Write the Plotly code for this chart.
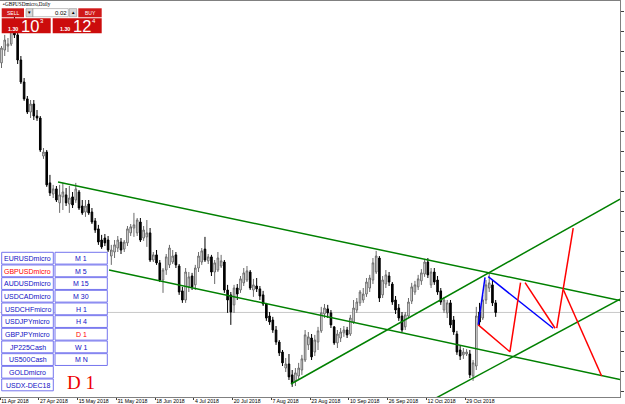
import plotly.graph_objects as go

# ---------------- data (GBPUSDmicro, Daily) ----------------
bar_index = list(range(154))

opens = [1.4133, 1.4191, 1.4209, 1.4218, 1.4308, 1.4259, 1.4146, 1.4047, 1.3971, 1.3912,
         1.3948, 1.3894, 1.3885, 1.3714, 1.3732, 1.3593, 1.3543, 1.3566, 1.3503, 1.3530,
         1.3539, 1.3498, 1.3530, 1.3516, 1.3552, 1.3489, 1.3462, 1.3498, 1.3462, 1.3422,
         1.3386, 1.3336, 1.3345, 1.3336, 1.3264, 1.3282, 1.3300, 1.3327, 1.3295, 1.3323,
         1.3368, 1.3390, 1.3368, 1.3417, 1.3345, 1.3350, 1.3368, 1.3246, 1.3269, 1.3233,
         1.3156, 1.3201, 1.3224, 1.3237, 1.3269, 1.3219, 1.3107, 1.3066, 1.3125, 1.3174,
         1.3134, 1.3210, 1.3237, 1.3295, 1.3242, 1.3260, 1.3192, 1.3201, 1.3219, 1.3237,
         1.3111, 1.3089, 1.3044, 1.3120, 1.3111, 1.3143, 1.3156, 1.3192, 1.3111, 1.3129,
         1.3116, 1.3089, 1.3048, 1.2994, 1.2976, 1.2931, 1.2877, 1.2832, 1.2760, 1.2778,
         1.2729, 1.2702, 1.2724, 1.2751, 1.2796, 1.2864, 1.2895, 1.2832, 1.2877, 1.2927,
         1.3003, 1.3026, 1.3008, 1.2945, 1.2873, 1.2895, 1.2918, 1.2931, 1.2913, 1.2967,
         1.3021, 1.3053, 1.3066, 1.3093, 1.3120, 1.3156, 1.3192, 1.3255, 1.3089, 1.3138,
         1.3174, 1.3138, 1.3066, 1.3030, 1.2994, 1.2945, 1.2994, 1.3061, 1.3102, 1.3125,
         1.3152, 1.3183, 1.3237, 1.3134, 1.3192, 1.3156, 1.3107, 1.3021, 1.3008, 1.3053,
         1.2976, 1.2913, 1.2841, 1.2819, 1.2823, 1.2823, 1.2724, 1.2769, 1.3012, 1.2985,
         1.3066, 1.3120, 1.3134, 1.3053]

highs = [1.4209, 1.4259, 1.4245, 1.4326, 1.4362, 1.4268, 1.4164, 1.4065, 1.3984, 1.3966,
         1.3966, 1.3921, 1.3894, 1.3750, 1.3741, 1.3629, 1.3584, 1.3579, 1.3584, 1.3593,
         1.3570, 1.3579, 1.3552, 1.3593, 1.3561, 1.3516, 1.3516, 1.3516, 1.3480, 1.3435,
         1.3404, 1.3359, 1.3363, 1.3354, 1.3314, 1.3336, 1.3354, 1.3345, 1.3336, 1.3399,
         1.3408, 1.3458, 1.3435, 1.3435, 1.3399, 1.3426, 1.3390, 1.3282, 1.3291, 1.3246,
         1.3210, 1.3273, 1.3314, 1.3291, 1.3282, 1.3228, 1.3125, 1.3210, 1.3192, 1.3188,
         1.3224, 1.3282, 1.3300, 1.3350, 1.3273, 1.3269, 1.3246, 1.3282, 1.3269, 1.3246,
         1.3134, 1.3102, 1.3134, 1.3138, 1.3174, 1.3210, 1.3219, 1.3201, 1.3161, 1.3165,
         1.3129, 1.3107, 1.3053, 1.3012, 1.2990, 1.2949, 1.2886, 1.2841, 1.2805, 1.2823,
         1.2751, 1.2760, 1.2783, 1.2819, 1.2931, 1.2922, 1.2913, 1.2909, 1.2945, 1.3035,
         1.3048, 1.3044, 1.3021, 1.2949, 1.2931, 1.2940, 1.2949, 1.2945, 1.2999, 1.3066,
         1.3075, 1.3111, 1.3120, 1.3165, 1.3179, 1.3255, 1.3287, 1.3264, 1.3174, 1.3201,
         1.3192, 1.3147, 1.3084, 1.3048, 1.3012, 1.3012, 1.3075, 1.3143, 1.3152, 1.3179,
         1.3205, 1.3251, 1.3255, 1.3210, 1.3210, 1.3174, 1.3120, 1.3080, 1.3066, 1.3066,
         1.2994, 1.2927, 1.2859, 1.2850, 1.2845, 1.2841, 1.2796, 1.3035, 1.3053, 1.3089,
         1.3156, 1.3192, 1.3156, 1.3066]

lows = [1.4110, 1.4164, 1.4182, 1.4209, 1.4245, 1.4128, 1.4038, 1.3962, 1.3903, 1.3885,
        1.3876, 1.3872, 1.3732, 1.3701, 1.3575, 1.3534, 1.3525, 1.3507, 1.3458, 1.3471,
        1.3489, 1.3458, 1.3480, 1.3503, 1.3471, 1.3449, 1.3440, 1.3449, 1.3408, 1.3368,
        1.3314, 1.3296, 1.3309, 1.3282, 1.3224, 1.3255, 1.3282, 1.3273, 1.3282, 1.3309,
        1.3354, 1.3350, 1.3354, 1.3327, 1.3332, 1.3305, 1.3237, 1.3237, 1.3224, 1.3147,
        1.3098, 1.3179, 1.3210, 1.3228, 1.3210, 1.3089, 1.3053, 1.3053, 1.3102, 1.3111,
        1.3111, 1.3192, 1.3224, 1.3237, 1.3228, 1.3174, 1.3138, 1.3192, 1.3210, 1.3098,
        1.3008, 1.2954, 1.3008, 1.3066, 1.3098, 1.3129, 1.3147, 1.3111, 1.3080, 1.3102,
        1.3066, 1.3039, 1.2972, 1.2954, 1.2918, 1.2864, 1.2814, 1.2769, 1.2742, 1.2706,
        1.2675, 1.2679, 1.2706, 1.2729, 1.2787, 1.2841, 1.2796, 1.2814, 1.2841, 1.2918,
        1.2985, 1.2985, 1.2940, 1.2864, 1.2850, 1.2877, 1.2900, 1.2895, 1.2904, 1.2958,
        1.3008, 1.3039, 1.3053, 1.3080, 1.3102, 1.3138, 1.3183, 1.3057, 1.3075, 1.3120,
        1.3129, 1.3044, 1.3003, 1.2972, 1.2922, 1.2931, 1.2985, 1.3048, 1.3089, 1.3111,
        1.3134, 1.3170, 1.3165, 1.3120, 1.3134, 1.3089, 1.3044, 1.3008, 1.2985, 1.2940,
        1.2909, 1.2819, 1.2796, 1.2801, 1.2814, 1.2715, 1.2702, 1.2751, 1.2949, 1.2976,
        1.3048, 1.3102, 1.3039, 1.2990]

closes = [1.4200, 1.4236, 1.4218, 1.4308, 1.4259, 1.4146, 1.4047, 1.3971, 1.3912, 1.3948,
          1.3894, 1.3885, 1.3741, 1.3732, 1.3584, 1.3548, 1.3566, 1.3516, 1.3539, 1.3552,
          1.3503, 1.3525, 1.3494, 1.3566, 1.3480, 1.3458, 1.3489, 1.3458, 1.3417, 1.3381,
          1.3327, 1.3305, 1.3323, 1.3291, 1.3291, 1.3314, 1.3336, 1.3291, 1.3327, 1.3386,
          1.3395, 1.3404, 1.3426, 1.3336, 1.3381, 1.3368, 1.3246, 1.3269, 1.3233, 1.3156,
          1.3201, 1.3260, 1.3300, 1.3264, 1.3224, 1.3102, 1.3066, 1.3192, 1.3170, 1.3125,
          1.3210, 1.3264, 1.3287, 1.3246, 1.3260, 1.3192, 1.3233, 1.3255, 1.3242, 1.3111,
          1.3066, 1.3012, 1.3120, 1.3093, 1.3161, 1.3188, 1.3197, 1.3120, 1.3134, 1.3116,
          1.3084, 1.3048, 1.2985, 1.2967, 1.2931, 1.2877, 1.2828, 1.2783, 1.2778, 1.2720,
          1.2693, 1.2738, 1.2760, 1.2801, 1.2909, 1.2900, 1.2810, 1.2886, 1.2927, 1.3008,
          1.3030, 1.3008, 1.2954, 1.2873, 1.2913, 1.2922, 1.2931, 1.2909, 1.2985, 1.3030,
          1.3057, 1.3102, 1.3093, 1.3147, 1.3165, 1.3233, 1.3264, 1.3075, 1.3156, 1.3179,
          1.3147, 1.3057, 1.3021, 1.2985, 1.2931, 1.2999, 1.3057, 1.3125, 1.3134, 1.3161,
          1.3188, 1.3237, 1.3179, 1.3192, 1.3147, 1.3102, 1.3057, 1.3066, 1.3053, 1.2954,
          1.2922, 1.2832, 1.2814, 1.2832, 1.2832, 1.2729, 1.2783, 1.2994, 1.2967, 1.3066,
          1.3134, 1.3143, 1.3053, 1.3010]

tick_bars = [0, 12, 24, 36, 48, 60, 72, 84, 96, 108, 120, 132, 144]
tick_labels = ["11 Apr 2018", "27 Apr 2018", "15 May 2018", "31 May 2018", "18 Jun 2018",
               "4 Jul 2018", "20 Jul 2018", "7 Aug 2018", "23 Aug 2018", "10 Sep 2018",
               "26 Sep 2018", "12 Oct 2018", "29 Oct 2018"]

bid_price = 1.3010

# trend lines (bar index, price)
channel_upper_x = [17.5, 191.5]
channel_upper_y = [1.3597, 1.3064]
channel_lower_x = [33.3, 191.5]
channel_lower_y = [1.3201, 1.2708]
rising_a_x = [89.6, 191.5]
rising_a_y = [1.2688, 1.3520]
rising_b_x = [133.0, 191.5]
rising_b_y = [1.2613, 1.3070]

blue_path_x = [147.6, 149.7, None, 150.7, 170.8]
blue_path_y = [1.2954, 1.3168, None, 1.3171, 1.2939]
red_path_x = [147.6, 157.4, 160.7, None, 162.1, 171.4, None, 171.9, 177.0, None, 174.0, 185.8]
red_path_y = [1.2954, 1.2833, 1.3144, None, 1.3144, 1.2939, None, 1.2939, 1.3389, None, 1.3111, 1.2724]

symbols = ["EURUSDmicro", "GBPUSDmicro", "AUDUSDmicro", "USDCADmicro", "USDCHFmicro",
           "USDJPYmicro", "GBPJPYmicro", "JP225Cash", "US500Cash", "GOLDmicro", "USDX-DEC18"]
timeframes = ["M 1", "M 5", "M 15", "M 30", "H 1", "H 4", "D 1", "W 1", "M N"]
active_symbol = "GBPUSDmicro"
active_tf = "D 1"

# ---------------- figure ----------------
W, H = 625, 404
PL, PR, PT, PB = 0, 620, 1, 397


def px(x):
    return (x - PL) / (PR - PL)


def py(y):
    return (PB - y) / (PB - PT)


fig = go.Figure()

fig.add_trace(go.Candlestick(
    x=bar_index, open=opens, high=highs, low=lows, close=closes,
    increasing=dict(line=dict(color="#6a6a6a", width=1), fillcolor="#ffffff"),
    decreasing=dict(line=dict(color="#000000", width=1), fillcolor="#000000"),
    whiskerwidth=0, showlegend=False, hoverinfo="skip"))

# bid line
fig.add_hline(y=bid_price, line=dict(color="#c8c8c8", width=1), layer="below")

green = "#008000"
for xs, ys in [(channel_upper_x, channel_upper_y), (channel_lower_x, channel_lower_y),
               (rising_a_x, rising_a_y), (rising_b_x, rising_b_y)]:
    fig.add_trace(go.Scatter(x=xs, y=ys, mode="lines", line=dict(color=green, width=1.5),
                             showlegend=False, hoverinfo="skip"))

fig.add_trace(go.Scatter(x=blue_path_x, y=blue_path_y, mode="lines",
                         line=dict(color="#0000ff", width=1.5), showlegend=False, hoverinfo="skip"))
fig.add_trace(go.Scatter(x=red_path_x, y=red_path_y, mode="lines",
                         line=dict(color="#ff0000", width=1.5), showlegend=False, hoverinfo="skip"))

shapes = []
annotations = []


def rect(x0, y0, x1, y1, fill, line="rgba(0,0,0,0)", lw=1):
    shapes.append(dict(type="rect", xref="paper", yref="paper",
                       x0=px(x0), x1=px(x1), y0=py(y1), y1=py(y0),
                       fillcolor=fill, line=dict(color=line, width=lw), layer="above"))


def text(x, y, s, size, color, family="Liberation Sans", xanchor="center", yanchor="middle"):
    annotations.append(dict(xref="paper", yref="paper", x=px(x), y=py(y), text=s,
                            showarrow=False, xanchor=xanchor, yanchor=yanchor,
                            font=dict(size=size, color=color, family=family),
                            borderpad=0, borderwidth=0))


# price marker on the right axis
shapes.append(dict(type="rect", xref="paper", yref="y", x0=1.0, x1=625 / 620,
                   y0=bid_price - 0.0015, y1=bid_price + 0.0015, fillcolor="#000000",
                   line=dict(width=0), layer="above"))

# title
text(1.5, 4.2, "▲", 3.5, "#606060", xanchor="left")
text(5, 4.2, "GBPUSDmicro,Daily", 5.2, "#000000", family="Liberation Sans Narrow", xanchor="left")

# one-click trading panel
red = "#d01818"
rect(1.7, 8.3, 24, 17.3, red)
rect(78.3, 8.3, 101.7, 17.3, red)
rect(26, 8.6, 33, 16.7, "#d8d8d8", "#808080", 0.5)
rect(33, 8.6, 68.3, 16.7, "#ffffff", "#808080", 0.5)
rect(69.3, 8.6, 76.7, 16.7, "#d8d8d8", "#808080", 0.5)
rect(1.7, 18.3, 50.7, 33.3, "#cc0c0c")
rect(52.7, 18.3, 101.7, 33.3, "#cc0c0c")
text(12.8, 12.9, "SELL", 5, "#ffffff")
text(90, 12.9, "BUY", 5, "#ffffff")
text(29.5, 12.6, "▼", 4.5, "#000000")
text(73, 12.6, "▲", 4.5, "#000000")
text(67.3, 12.7, "0.02", 6, "#000000", xanchor="right")
text(13, 29, "<b>1.30</b>", 5.3, "#ffffff")
text(30, 25.8, "10", 16.5, "#ffffff")
text(41.6, 21, "3", 6, "#ffffff")
text(64.5, 29, "<b>1.30</b>", 5.3, "#ffffff")
text(81.5, 25.8, "12", 16.5, "#ffffff")
text(93.6, 21, "4", 6, "#ffffff")

# symbol / timeframe buttons
btn_line = "#7575ee"
btn_text = "#1010c4"
row_top = 252.3
row_pitch = 12.67
row_h = 11.8
for r, s in enumerate(symbols):
    y0 = row_top + r * row_pitch
    rect(1.7, y0, 53.3, y0 + row_h, "#ffffff", btn_line, 1)
    text(27.5, y0 + row_h / 2 + 0.3, s, 7, "#ff0000" if s == active_symbol else btn_text)
for r, s in enumerate(timeframes):
    y0 = row_top + r * row_pitch
    rect(55, y0, 107.3, y0 + row_h, "#ffffff", btn_line, 1)
    text(81.2, y0 + row_h / 2 + 0.3, s, 7, "#ff0000" if s == active_tf else btn_text)

text(81, 382, active_tf, 19, "#ee0000", family="Liberation Serif")

fig.update_layout(
    width=W, height=H,
    margin=dict(l=PL, r=W - PR, t=PT, b=H - PB, pad=0, autoexpand=False),
    paper_bgcolor="#ffffff", plot_bgcolor="#ffffff",
    showlegend=False,
    shapes=shapes, annotations=annotations,
    xaxis=dict(range=[-0.464, 191.49], rangeslider=dict(visible=False),
               showgrid=False, zeroline=False, automargin=False,
               showline=True, linecolor="#808080", linewidth=1, mirror=True,
               tickmode="array", tickvals=[b - 0.42 for b in tick_bars], ticktext=tick_labels,
               tickangle=0,
               ticks="outside", ticklen=2, tickcolor="#404040", tickwidth=1,
               ticklabelposition="outside right", ticklabelstandoff=-1,
               tickfont=dict(family="Liberation Sans", size=5.2, color="#000000")),
    yaxis=dict(side="right", range=[1.26295, 1.44115], showgrid=False, zeroline=False,
               automargin=False,
               showline=True, linecolor="#808080", linewidth=1,
               tick0=1.3104, dtick=0.009, ticks="outside", ticklen=3,
               tickcolor="#404040", tickwidth=1, showticklabels=False),
)

fig.write_html("out.html")
